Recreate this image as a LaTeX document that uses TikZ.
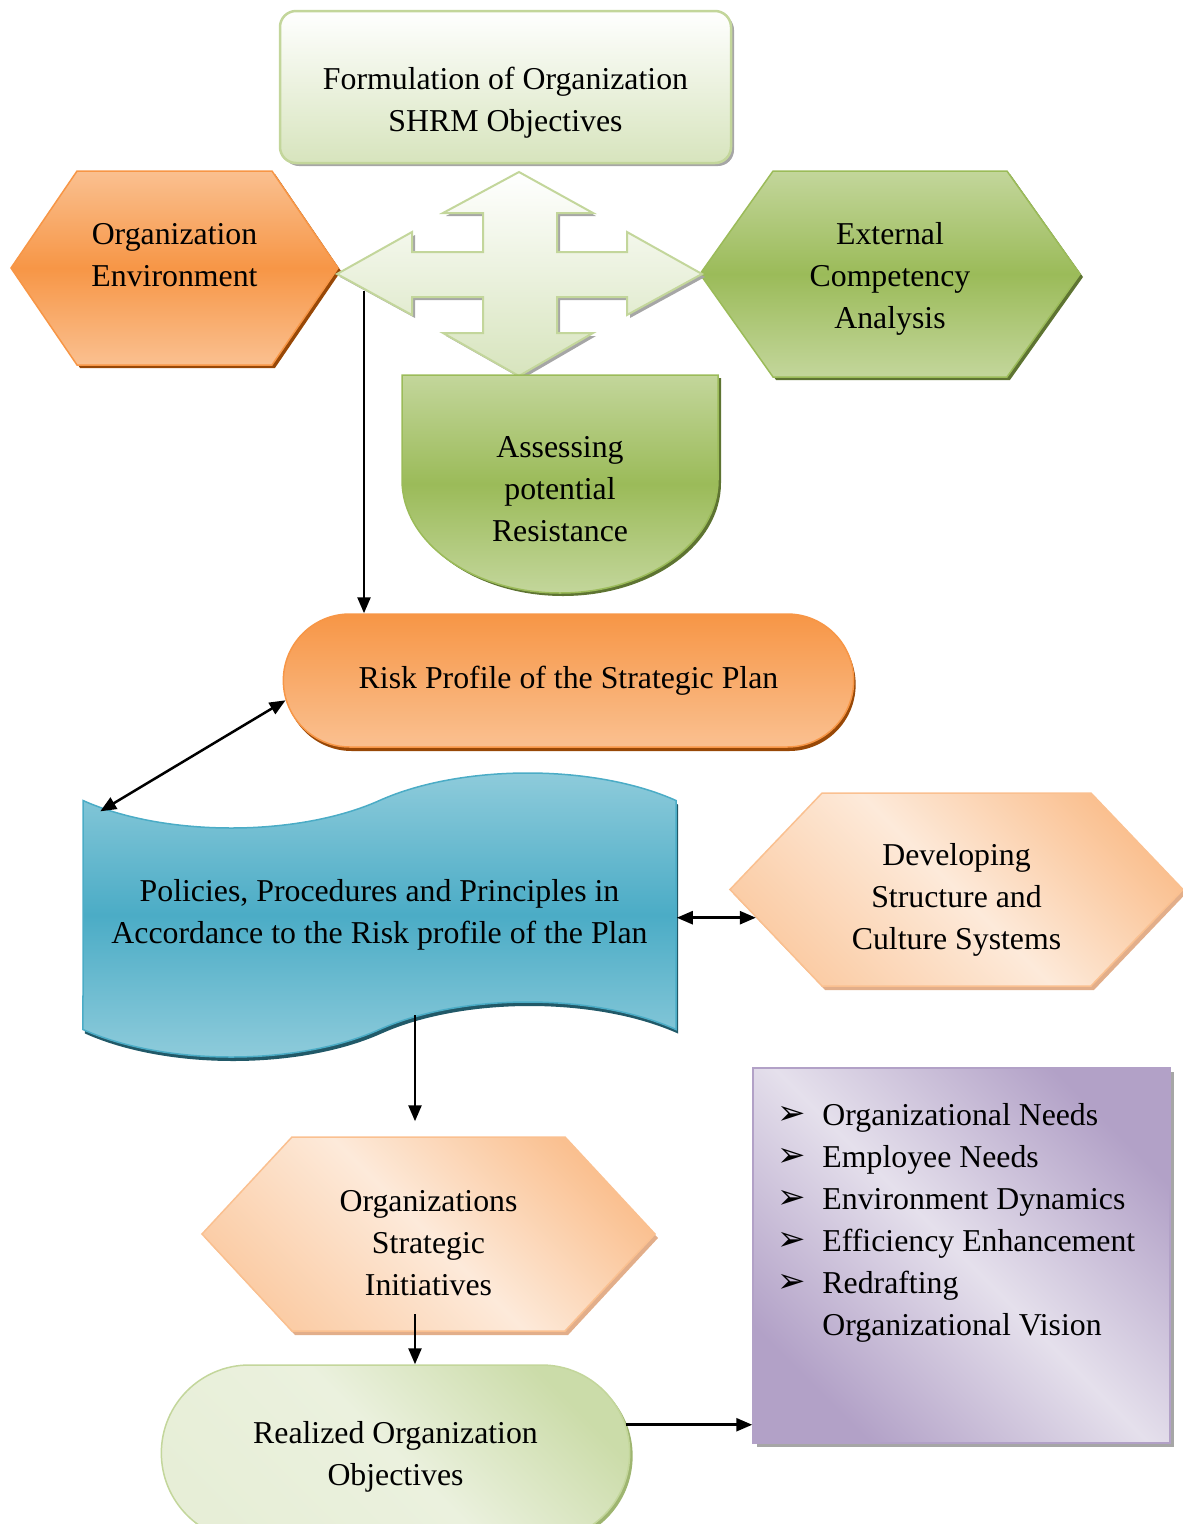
\documentclass[tikz,border=0pt]{standalone}
\usepackage{fontspec}
\setmainfont{Liberation Serif}
\newfontfamily\dingfont{DejaVu Sans}
\usetikzlibrary{shapes.symbols,shapes.misc,shadows,arrows.meta,positioning}

% Office like colours
\definecolor{orlight}{HTML}{FAC090}
\definecolor{ormid}{HTML}{F79646}
\definecolor{ordark}{HTML}{984807}
\definecolor{grlight}{HTML}{C3D69B}
\definecolor{grmid}{HTML}{9BBB59}
\definecolor{grdark}{HTML}{4F6228}
\definecolor{grpale}{HTML}{D7E4BD}
\definecolor{grwhite}{HTML}{EBF1DE}
\definecolor{bllight}{HTML}{92CDDC}
\definecolor{blmid}{HTML}{4BACC6}
\definecolor{bldark}{HTML}{215968}
\definecolor{pchdark}{HTML}{FAC090}
\definecolor{pchlight}{HTML}{FDEADA}
\definecolor{pchshadow}{HTML}{E2AE8A}
\definecolor{pulight}{HTML}{E5E0EC}
\definecolor{pumid}{HTML}{B2A1C7}
\definecolor{shgray}{HTML}{A6A6A6}

% struts to move text lines inside a shape
\newcommand{\toppad}[1]{\rule{0pt}{\dimexpr 23pt+#1\relax}}
\newcommand{\botpad}[1]{\rule[-\dimexpr 8pt+#1\relax]{0pt}{0pt}}
\newcommand{\bul}{\makebox[45pt][l]{\raisebox{1pt}{\dingfont\fontsize{34}{34}\selectfont ➢}}}

\begin{document}
\begin{tikzpicture}[x=1pt, y=-1pt, font=\fontsize{31.8}{42}\selectfont]

\useasboundingbox (0,0) rectangle (1183,1524);

% Define styles for shapes
\tikzstyle{hexa} = [signal, signal to=west and east, align=center, inner sep=0pt, line width=1.5pt]
\tikzstyle{stadium} = [rounded rectangle, align=center, line width=1.5pt]

% Define fillings with their shadows
\tikzstyle{orangefill} = [top color=orlight, bottom color=orlight, middle color=ormid, draw=ormid,
  general shadow={fill=ordark, shadow xshift=3pt, shadow yshift=-3pt}]
\tikzstyle{greenfill} = [top color=grlight, bottom color=grlight, middle color=grmid, draw=grmid,
  general shadow={fill=grdark!80!grmid, shadow xshift=3pt, shadow yshift=-3pt}]
\tikzstyle{palefill} = [top color=white, bottom color=grpale, draw=grlight,
  general shadow={fill=shgray, shadow xshift=3pt, shadow yshift=-3pt}]
\tikzstyle{peachfill} = [top color=pchdark, bottom color=pchdark!70!pchlight, middle color=pchlight, shading angle=-45,
  draw=pchdark, general shadow={fill=pchshadow, shadow xshift=3pt, shadow yshift=-4pt}]

%Connectors with black triangle heads
\tikzstyle{conn} = [line width=2.5pt, -{Triangle[length=16pt, width=13pt]}]
\tikzstyle{twoway} = [line width=2.5pt, {Triangle[length=16pt, width=13pt]}-{Triangle[length=16pt, width=13pt]}]

\node[rectangle, rounded corners=16pt, line width=2.5pt, palefill, minimum width=451pt, minimum height=152pt, align=center]
  (formulation) at (505.5,87) {\toppad{30pt}Formulation of Organization\\SHRM Objectives};

\node[hexa, orangefill, minimum width=327pt, minimum height=194pt, signal pointer angle=111.5]
  (environment) at (174.5,268) {Organization\\Environment\botpad{18pt}};

\node[hexa, greenfill, minimum width=380pt, minimum height=206pt, signal pointer angle=109.3]
  (external) at (890,274) {\toppad{8pt}External\\Competency\\Analysis};

% four way arrow
\path[top color=white, bottom color=grpale, draw=grlight, line width=2pt,
  general shadow={fill=shgray, shadow xshift=3pt, shadow yshift=-3pt}]
  (519,172) -- (593,213) -- (557,213) -- (557,252) -- (627,252) -- (627,232) -- (702,274)
  -- (627,315) -- (627,297) -- (557,297) -- (557,333) -- (593,333) -- (519,376)
  -- (443,333) -- (483,333) -- (483,297) -- (412,297) -- (412,315) -- (337,274)
  -- (412,232) -- (412,252) -- (483,252) -- (483,213) -- (443,213) -- cycle;

% resistance shape
\path[greenfill, line width=1.5pt] (402,375) -- (718,375) -- (718,480)
  arc[start angle=0, end angle=-180, x radius=158pt, y radius=113pt] -- cycle;
\node[align=center] (resistance) at (560,489) {Assessing\\potential\\Resistance};

\node[stadium, top color=ormid, bottom color=orlight, draw=ormid,
  general shadow={fill=ordark, shadow xshift=2pt, shadow yshift=-4pt},
  minimum width=577pt, minimum height=133pt] (risk) at (568.5,680.5) {Risk Profile of the Strategic Plan};

\node[tape, tape bend top=in and out, tape bend bottom=in and out, tape bend height=55pt,
  top color=bllight, bottom color=bllight, middle color=blmid, draw=blmid, line width=1.5pt,
  general shadow={fill=bldark, shadow xshift=2pt, shadow yshift=-4pt},
  minimum width=593pt, minimum height=284pt, align=center]
  (policies) at (379.5,915) {Policies, Procedures and Principles in\\Accordance to the Risk profile of the Plan};

\node[hexa, peachfill, minimum width=453pt, minimum height=193pt, signal pointer angle=92.7]
  (developing) at (956.5,889.5) {\toppad{20pt}Developing\\Structure and\\Culture Systems};

\node[hexa, peachfill, minimum width=453pt, minimum height=194pt, signal pointer angle=94.3]
  (initiatives) at (428.5,1234) {\toppad{16pt}Organizations\\Strategic\\Initiatives};

\node[stadium, top color=grlight!60!grpale, bottom color=grwhite!80!grpale, middle color=grwhite, shading angle=-45,
  draw=grlight, general shadow={fill=grmid!70!shgray, shadow xshift=3pt, shadow yshift=-3pt},
  minimum width=475pt, minimum height=176pt] (realized) at (395.5,1453) {\toppad{6pt}Realized Organization\\Objectives};

\node[rectangle, top color=pumid, bottom color=pumid, middle color=pulight, shading angle=-45,
  draw=pumid, line width=1.5pt, general shadow={fill=shgray, shadow xshift=4pt, shadow yshift=-4pt},
  minimum width=417pt, minimum height=375pt] (needsbox) at (961.5,1255.5) {};
\node[anchor=north west, align=left, inner sep=0pt, below right=36pt and 25pt of needsbox.north west]
  (needs) {\bul Organizational Needs\\
  \bul Employee Needs\\
  \bul Environment Dynamics\\
  \bul Efficiency Enhancement\\
  \bul Redrafting\\
  \makebox[45pt][l]{}Organizational Vision};

% Connectors
\coordinate (crossfoot) at (364,291);
\draw[conn] (crossfoot) -- (crossfoot |- risk.north);
\draw[twoway] (risk.184) -- ([shift={(18,12)}]policies.north west);
\draw[twoway] (policies.east |- developing.188) -- (developing.188);
\coordinate (tapefoot) at (415,1015);
\draw[conn, shorten >=15pt] (tapefoot) -- (tapefoot |- initiatives.north);
\coordinate (initfoot) at (415,1314);
\draw[conn] (initfoot) -- (initfoot |- realized.north);
\draw[conn] (realized.7) -- (realized.7 -| needsbox.west);

\end{tikzpicture}
\end{document}
